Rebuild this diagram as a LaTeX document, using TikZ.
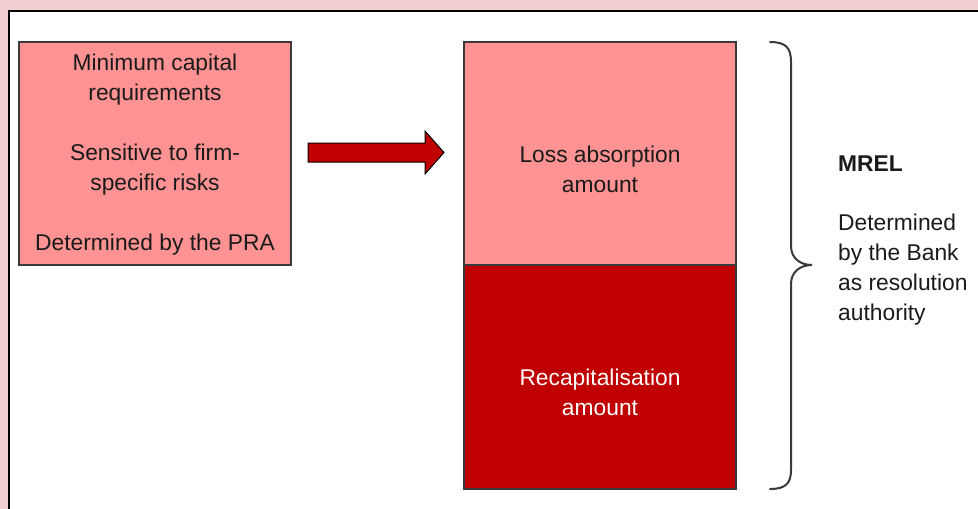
\documentclass[tikz,border=0pt]{standalone}
\usepackage{fontspec}
\setmainfont{Liberation Sans}
\definecolor{bgpink}{HTML}{F2CFD0}
\definecolor{boxpink}{HTML}{FF9393}
\definecolor{boxred}{HTML}{C00000}
\definecolor{txt}{HTML}{1A1A1A}
\definecolor{edge}{HTML}{3A3A3A}
\begin{document}
\begin{tikzpicture}[x=1pt,y=-1pt,
  box/.style={draw=edge,line width=1.2pt},
  lbl/.style={font=\fontsize{22.8}{30}\selectfont,text=txt,align=center,inner sep=0pt},
  side/.style={font=\fontsize{22.8}{30}\selectfont,text=txt,align=left,inner sep=0pt,anchor=west}]
\useasboundingbox (0,0) rectangle (978,509);
\fill[bgpink] (0,0) rectangle (978,509);
\fill[white] (8.5,11) rectangle (978,509);
\draw[black,line width=2pt] (8.5,509) -- (8.5,11) -- (978,11);
% left box
\draw[box,fill=boxpink] (19,42) rectangle (291,265);
\node[lbl] (left) at (155,155) {Minimum capital\\requirements\\[30pt]Sensitive to firm-\\specific risks\\[30pt]Determined by the PRA};
% right boxes
\draw[box,fill=boxpink] (464,42) rectangle (736,265);
\draw[box,fill=boxred] (464,265) rectangle (736,489);
\node[lbl] (loss) at (600,169) {Loss absorption\\amount};
\node[lbl,text=white] (recap) at (600,392) {Recapitalisation\\amount};
% arrow
\draw[black,line width=1pt,fill=boxred,line join=miter]
  (308,143) -- (425,143) -- (425,131) -- (444,152.5) -- (425,174) -- (425,162) -- (308,162) -- cycle;
% brace
\draw[edge,line width=2pt,line cap=round]
  (770,42) .. controls (786,42) and (791,48) .. (791,62) -- (791,246)
  .. controls (791,258) and (800,265) .. (812,265)
  .. controls (800,265) and (791,272) .. (791,284) -- (791,470)
  .. controls (791,483) and (786,489) .. (770,489);
\node[side,font=\fontsize{22.8}{30}\bfseries\selectfont] (mrel) at (838,164) {MREL};
\node[side,anchor=north west] (det) at (838,214) {Determined\\by the Bank\\as resolution\\authority};
\end{tikzpicture}
\end{document}
